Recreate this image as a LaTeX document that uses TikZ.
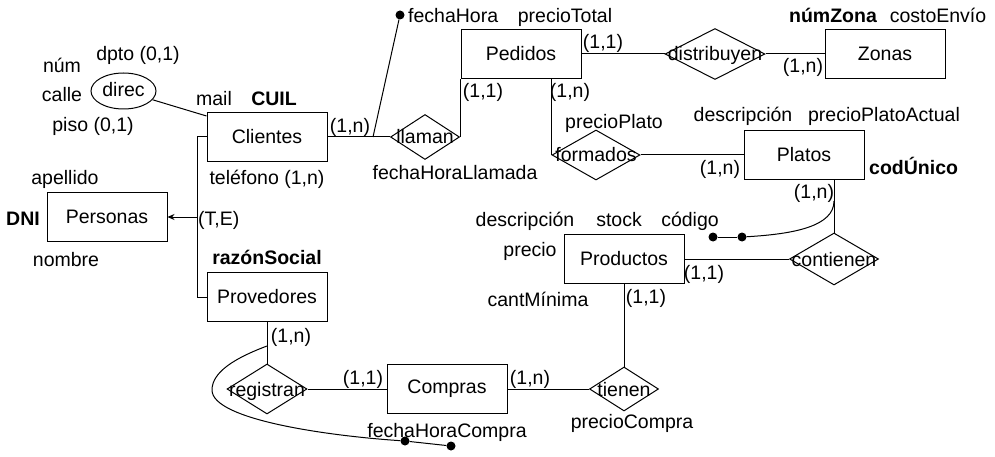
\documentclass[tikz,border=0pt]{standalone}
\usepackage{fontspec}
\setmainfont{Liberation Sans}
\usetikzlibrary{shapes.geometric,arrows.meta}
\tikzset{
  every node/.style={font=\fontsize{19.5}{22}\selectfont},
  ent/.style={draw, line width=1pt, minimum width=120pt, minimum height=49pt, inner sep=0pt},
  rel/.style={draw, line width=1pt, shape=diamond, inner sep=0pt},
  attr/.style={inner sep=0pt, text height=14pt, text depth=0pt},
  keyattr/.style={attr, font=\fontsize{19.5}{22}\selectfont\bfseries},
  dotnode/.style={circle, fill=black, inner sep=0pt, minimum size=9pt},
  conn/.style={line width=1pt}
}
\begin{document}
\begin{tikzpicture}[x=1pt, y=-1pt]
\useasboundingbox (0,0) rectangle (995,457);
\fill[white] (0,0) rectangle (995,457);

% entities
\node[ent] (clientes) at (267,137) {Clientes};
\node[ent] (pedidos) at (521,54) {Pedidos};
\node[ent] (zonas) at (885,54) {Zonas};
\node[ent] (platos) at (804,155) {Platos};
\node[ent] (personas) at (107,217) {Personas};
\node[ent] (provedores) at (267,297) {Provedores};
\node[ent] (productos) at (624,259) {Productos};
\node[ent] (compras) at (447,389) {Compras};

% relationships
\node[rel, minimum width=69pt, minimum height=45pt, label={[attr]center:llaman}] (llaman) at (425,137) {};
\node[rel, minimum width=100pt, minimum height=51pt, label={[attr]center:distribuyen}] (distribuyen) at (715,54) {};
\node[rel, minimum width=88pt, minimum height=50pt, label={[attr]center:formados}] (formados) at (596,155) {};
\node[rel, minimum width=89pt, minimum height=52pt, label={[attr]center:contienen}] (contienen) at (834,259) {};
\node[rel, minimum width=80pt, minimum height=50pt, label={[attr]center:registran}] (registran) at (267,389) {};
\node[rel, minimum width=69pt, minimum height=44pt, label={[attr]center:tienen}] (tienen) at (624,389) {};

% composite attribute
\node[draw, line width=1pt, ellipse, minimum width=65pt, minimum height=36pt, inner sep=0pt] (direc) at (123.5,91) {};
\node[attr] (direct) at (123.5,90) {direc};

% connectors
\draw[conn] (direc) -- ([yshift=-4pt]clientes.north west);
\draw[conn] (clientes.east) -- (llaman.west);
\draw[conn] (llaman.east) -- (llaman.east |- pedidos.south);
\draw[conn] (pedidos.east) -- (distribuyen.west);
\draw[conn] (distribuyen.east) -- (zonas.west);
\draw[conn] (formados.west |- pedidos.south) -- (formados.west);
\draw[conn] (formados.east) -- (platos.west);
\draw[conn] (contienen.north |- platos.south) -- (contienen.north);
\draw[conn] (productos.east) -- (contienen.west);
\draw[conn] (productos.south) -- (tienen.north);
\draw[conn] (compras.east) -- (tienen.west);
\draw[conn] (registran.east) -- (compras.west);
\draw[conn] (provedores.south) -- (registran.north);

% ISA
\coordinate (isa) at (197,217);
\draw[conn] (clientes.west) -- (clientes.west -| isa) -- (provedores.west -| isa) -- (provedores.west);
\draw[conn, -{Stealth[length=7pt,width=6pt]}] (isa) -- (personas.east);

% multivalued / special attributes
\coordinate (fhj) at (373,137);
\node[dotnode] (fhdot) at (400,15) {};
\draw[conn] (fhdot) -- (fhj);

\coordinate (cj) at (834,201);
\node[dotnode] (cd1) at (713,237) {};
\node[dotnode] (cd2) at (742,237) {};
\draw[conn] (cj) .. controls (834,226) and (795,234) .. (cd2);
\draw[conn] (cd1) -- (cd2);

\coordinate (rj) at (267,346);
\coordinate (rl) at (212,390);
\node[dotnode] (rd1) at (405,441) {};
\node[dotnode] (rd2) at (451,446) {};
\draw[conn] (rj) .. controls (235,358) and (212,372) .. (rl) .. controls (212,420) and (330,436) .. (rd1);
\draw[conn] (rd1) -- (rd2);

% attribute labels
\node[attr] (a1) at (138,54) {dpto (0,1)};
\node[attr] (a2) at (62,66) {núm};
\node[attr] (a3) at (62,95) {calle};
\node[attr] (a4) at (93,125) {piso (0,1)};
\node[attr] (a5) at (214,99) {mail};
\node[keyattr] (a6) at (274,99) {CUIL};
\node[attr] (a7) at (267,178) {teléfono (1,n)};
\node[attr] (a8) at (65,178) {apellido};
\node[keyattr] (a9) at (23,218) {DNI};
\node[attr] (a10) at (66,259) {nombre};
\node[attr, anchor=west] (a11) at (198,218) {(T,E)};
\node[keyattr] (a12) at (267,257) {razónSocial};
\node[attr, anchor=west] (a13) at (408,16) {fechaHora};
\node[attr] (a14) at (565,16) {precioTotal};
\node[attr] (a15) at (455,172) {fechaHoraLlamada};
\node[keyattr] (a16) at (833,16) {númZona};
\node[attr] (a17) at (938,16) {costoEnvío};
\node[attr] (a18) at (614,122) {precioPlato};
\node[attr] (a19) at (743,115) {descripción};
\node[attr] (a20) at (884,115) {precioPlatoActual};
\node[keyattr, anchor=west] (a21) at (869,168) {codÚnico};
\node[attr] (a22) at (525,219) {descripción};
\node[attr] (a23) at (619,219) {stock};
\node[attr] (a24) at (690,219) {código};
\node[attr] (a25) at (530,249) {precio};
\node[attr] (a26) at (538,299) {cantMínima};
\node[attr] (a27) at (632,421) {precioCompra};
\node[attr] (a28) at (447,430) {fechaHoraCompra};

% cardinalities
\node[attr] (c1) at (350,126) {(1,n)};
\node[attr] (c2) at (483,91) {(1,1)};
\node[attr] (c3) at (570,91) {(1,n)};
\node[attr] (c4) at (603,42) {(1,1)};
\node[attr] (c5) at (803,66) {(1,n)};
\node[attr] (c6) at (720,168) {(1,n)};
\node[attr] (c7) at (814,191) {(1,n)};
\node[attr] (c8) at (704,272) {(1,1)};
\node[attr] (c9) at (646,296) {(1,1)};
\node[attr] (c10) at (291,335) {(1,n)};
\node[attr] (c11) at (363,377) {(1,1)};
\node[attr] (c12) at (530,377) {(1,n)};
\end{tikzpicture}
\end{document}
